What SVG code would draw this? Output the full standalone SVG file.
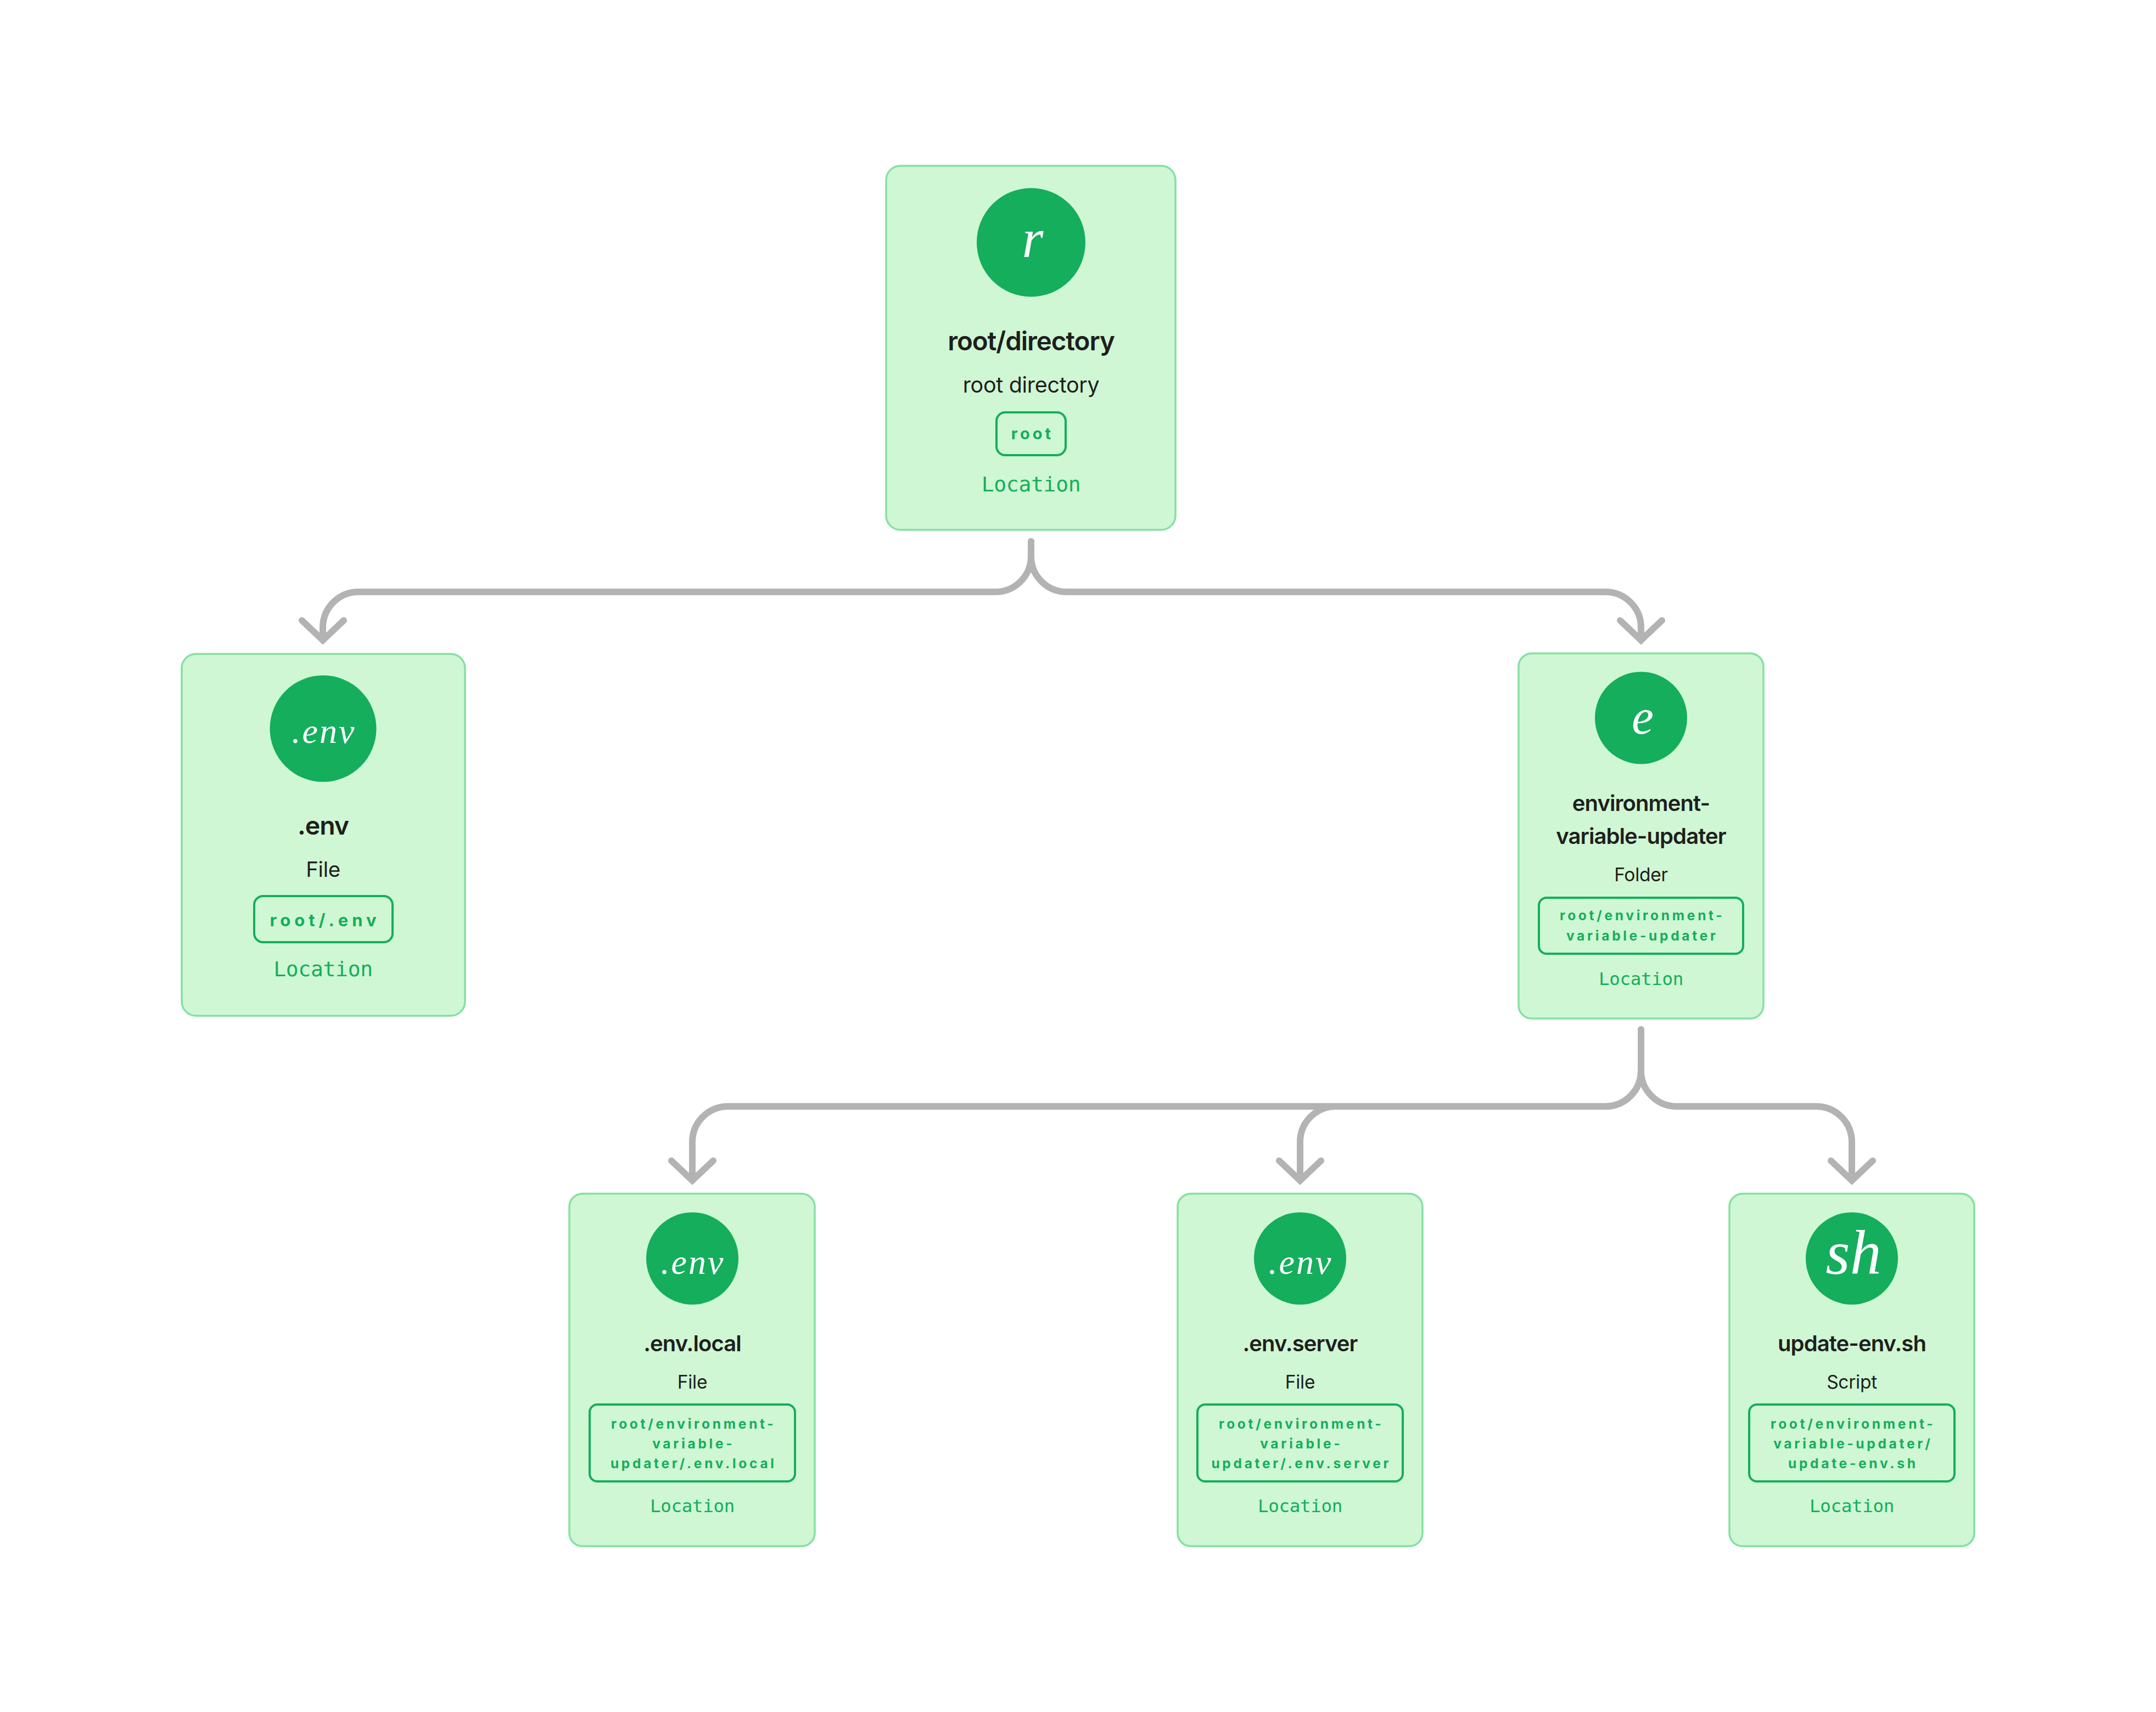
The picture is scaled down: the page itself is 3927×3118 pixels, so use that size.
<svg xmlns="http://www.w3.org/2000/svg" width="3927" height="3118" viewBox="0 0 3927 3118">
<style>
text{text-anchor:middle;font-family:"Inter","Liberation Sans",sans-serif}
.card{fill:#CFF7D3;stroke:#85E0A3;stroke-width:3.500}
.dot{fill:#14AE5C}
.badge{fill:none;stroke:#14AE5C;stroke-width:4}
.icon{fill:#fff;font-family:"Liberation Serif",serif;font-style:italic}
.t{fill:#1E1E1E;font-weight:600;letter-spacing:-0.023em}
.s{fill:#1E1E1E;font-weight:400;letter-spacing:-0.008em}
.c{fill:#14AE5C;font-weight:700}
.l{fill:#14AE5C;font-family:"DejaVu Sans Mono",monospace}
.t40{font-size:40px}.s33{font-size:33.5px}
.c22{font-size:24.500px;letter-spacing:4.700px}
.l31{font-size:32.500px;letter-spacing:-0.300px}
.conn{fill:none;stroke:#B3B3B3;stroke-width:12;stroke-linecap:round;marker-end:url(#arrow)}
.tip{fill:none;stroke:#B3B3B3;stroke-width:12;stroke-linecap:round;stroke-linejoin:miter}
</style>
<defs>
<marker id="arrow" markerUnits="userSpaceOnUse" markerWidth="1" markerHeight="1" refX="0" refY="0" orient="auto" overflow="visible">
<path class="tip" d="M-36,-38L0,0L-36,38"/>
</marker>
</defs>
<rect width="3927" height="3118" fill="#fff"/>
<g id="connectors">
<path class="conn" d="M1878,986V1013A65,65 0 0 1 1813,1078H653A65,65 0 0 0 588,1143V1166"/>
<path class="conn" d="M1878,986V1013A65,65 0 0 0 1943,1078H2924A65,65 0 0 1 2989,1143V1166"/>
<path class="conn" d="M2989,1875V1950A65,65 0 0 1 2924,2015H1326A65,65 0 0 0 1261,2080V2150"/>
<path class="conn" d="M2989,1875V1950A65,65 0 0 1 2924,2015H2433A65,65 0 0 0 2368,2080V2150"/>
<path class="conn" d="M2989,1875V1950A65,65 0 0 0 3054,2015H3308A65,65 0 0 1 3373,2080V2150"/>
</g>
<g id="node-root">
<rect class="card" x="1614" y="302" width="527" height="663" rx="26"/>
<circle class="dot" cx="1878" cy="441.500" r="99"/>
<text class="icon" x="1881" y="468" font-size="100">r</text>
<text class="t" x="1878" y="638" font-size="47.500">root/directory</text>
<text class="s" x="1878" y="715" font-size="39.500">root directory</text>
<rect class="badge" x="1815" y="751" width="126" height="78" rx="16"/>
<text class="c" x="1880.500" y="800" font-size="29" letter-spacing="5">root</text>
<text class="l" x="1878" y="895" font-size="38" letter-spacing="-0.300">Location</text>
</g>
<g id="node-env">
<rect class="card" x="331" y="1191" width="516" height="659" rx="26"/>
<circle class="dot" cx="588.500" cy="1327" r="97"/>
<text class="icon" x="590" y="1353" font-size="64" letter-spacing="3">.env</text>
<text class="t" x="588.500" y="1520" font-size="46.500">.env</text>
<text class="s" x="588.500" y="1597" font-size="38.500">File</text>
<rect class="badge" x="463" y="1632" width="252" height="84" rx="16"/>
<text class="c" x="592" y="1686.500" font-size="31" letter-spacing="7">root/.env</text>
<text class="l" x="588.500" y="1778" font-size="38" letter-spacing="-0.300">Location</text>
</g>
<g id="node-folder">
<rect class="card" x="2766" y="1190" width="446" height="665" rx="24"/>
<circle class="dot" cx="2989" cy="1307.500" r="84"/>
<text class="icon" x="2992" y="1336" font-size="90">e</text>
<text class="t t40" x="2989" y="1477">environment-</text>
<text class="t t40" x="2989" y="1537">variable-updater</text>
<text class="s s33" x="2989" y="1605">Folder</text>
<rect class="badge" x="2803" y="1635" width="372" height="102" rx="14"/>
<text class="c c22" x="2991.300" y="1676">root/environment-</text>
<text class="c c22" x="2991.300" y="1713">variable-updater</text>
<text class="l l31" x="2989" y="1793.500">Location</text>
</g>
<g id="node-local">
<rect class="card" x="1037" y="2174" width="447" height="642" rx="24"/>
<circle class="dot" cx="1261" cy="2292" r="84"/>
<text class="icon" x="1262" y="2320" font-size="64" letter-spacing="3">.env</text>
<text class="t t40" x="1261" y="2461">.env.local</text>
<text class="s s33" x="1261" y="2528.500">File</text>
<rect class="badge" x="1074" y="2558" width="374" height="140" rx="14"/>
<text class="c c22" x="1263.300" y="2602">root/environment-</text>
<text class="c c22" x="1263.300" y="2638">variable-</text>
<text class="c c22" x="1263.300" y="2674">updater/.env.local</text>
<text class="l l31" x="1261" y="2754">Location</text>
</g>
<g id="node-server">
<rect class="card" x="2145" y="2174" width="446" height="642" rx="24"/>
<circle class="dot" cx="2368" cy="2292" r="84"/>
<text class="icon" x="2369" y="2320" font-size="64" letter-spacing="3">.env</text>
<text class="t t40" x="2368" y="2461">.env.server</text>
<text class="s s33" x="2368" y="2528.500">File</text>
<rect class="badge" x="2181" y="2558" width="374" height="140" rx="14"/>
<text class="c c22" x="2370.300" y="2602">root/environment-</text>
<text class="c c22" x="2370.300" y="2638">variable-</text>
<text class="c c22" x="2370.300" y="2674">updater/.env.server</text>
<text class="l l31" x="2368" y="2754">Location</text>
</g>
<g id="node-script">
<rect class="card" x="3150" y="2174" width="446" height="642" rx="24"/>
<circle class="dot" cx="3373" cy="2292" r="84"/>
<text class="icon" x="3376" y="2320" font-size="114">sh</text>
<text class="t t40" x="3373" y="2461">update-env.sh</text>
<text class="s s33" x="3373" y="2528.500">Script</text>
<rect class="badge" x="3186" y="2558" width="374" height="140" rx="14"/>
<text class="c c22" x="3375.300" y="2602">root/environment-</text>
<text class="c c22" x="3375.300" y="2638">variable-updater/</text>
<text class="c c22" x="3375.300" y="2674">update-env.sh</text>
<text class="l l31" x="3373" y="2754">Location</text>
</g>
</svg>
